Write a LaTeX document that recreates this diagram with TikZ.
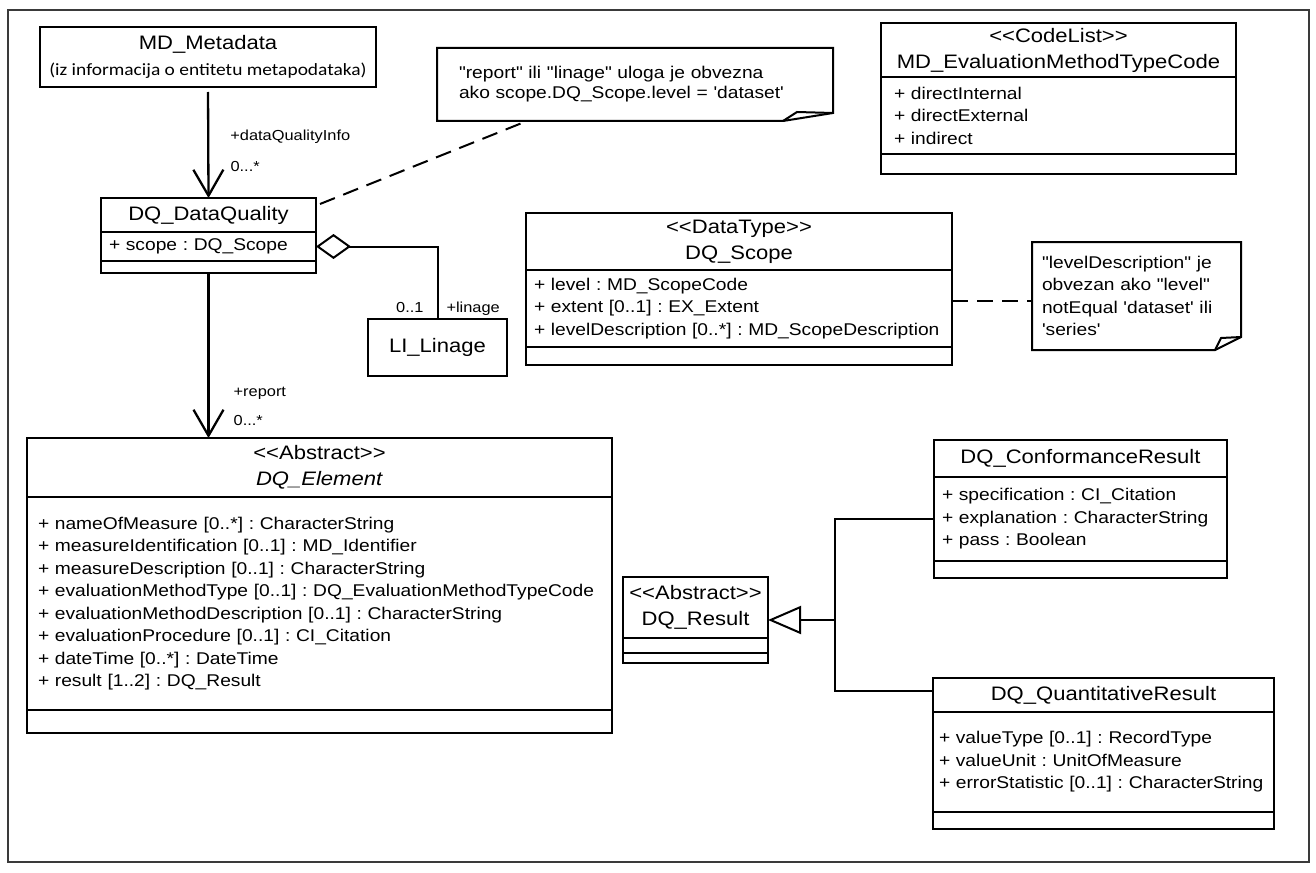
\documentclass[tikz,border=0pt]{standalone}
\usepackage{fontspec}
\newfontfamily\umlfont[FakeStretch=1.13,Ligatures=TeXOff]{Liberation Sans}
\newfontfamily\metasubfont[FakeStretch=1.13,Ligatures=TeXOff]{Carlito}
\usetikzlibrary{positioning}
\usetikzlibrary{arrows.meta, calc}
\frenchspacing
\hyphenpenalty=10000
\definecolor{framegray}{HTML}{3A3A3A}
\newcommand\namefont{\umlfont\fontsize{19.5}{26}\selectfont}
\newcommand\attrfont{\umlfont\fontsize{17}{22.5}\selectfont}
\newcommand\lblfont{\umlfont\fontsize{14.5}{17}\selectfont}
\tikzstyle{classname} = [rectangle, draw=black, line width=2pt, font=\namefont,
align=center, inner sep=0pt, outer sep=0pt]
\tikzstyle{classattr} = [rectangle, draw=black, line width=2pt, font=\attrfont,
align=left, inner xsep=8pt, inner ysep=0pt, outer sep=0pt]
\tikzstyle{classops} = [rectangle, draw=black, line width=2pt, inner sep=0pt, outer sep=0pt]
\tikzstyle{notebox} = [rectangle, font=\attrfont, align=left, inner ysep=0pt, outer sep=0pt]
\tikzstyle{noteline} = [line width=2pt, line join=miter]
\tikzstyle{notelink} = [line width=2pt, dash pattern=on 16pt off 9pt]
\tikzstyle{assoc} = [line width=2.3pt, -{Straight Barb[length=26pt, width=30pt]}]
\tikzstyle{aggr} = [line width=2pt, {Diamond[open, length=35pt, width=25pt]}-]
\tikzstyle{gen} = [line width=2pt, -{Triangle[open, length=33pt, width=28pt]}]
\tikzstyle{lbl} = [font=\lblfont, inner sep=0pt]

\begin{document}
\begin{tikzpicture}[x=1pt, y=-1pt]
    \useasboundingbox (0,0) rectangle (1316,872);
    \draw[line width=2pt, draw=framegray] (8,10) rectangle (1309,862);

    \node (mdMeta) [classname, anchor=north west, minimum width=336, minimum height=60] at (40,27)
    {MD\_Metadata\\{\metasubfont\fontsize{17.2}{22}\selectfont (iz informacija o entitetu metapodataka)}};

    \node (dqName) [classname, anchor=north west, minimum width=215, minimum height=34] at (101,198) {DQ\_DataQuality};
    \node (dqAttr) [classattr, below=0pt of dqName, text width=199pt, minimum height=29] {+ scope : DQ\_Scope};
    \node (dqOps) [classops, below=0pt of dqAttr, minimum width=215, minimum height=12] {};

    \node (noteTop) [notebox, anchor=north west, minimum width=396, minimum height=73, inner xsep=22pt,
    text width=352pt] at (437,48) {"report" ili "linage" uloga je obvezna\\[-2.5pt]ako scope.DQ\_Scope.level = 'dataset'};
    \draw[noteline] (noteTop.north west) -- (noteTop.north east) -- ([yshift=8]noteTop.south east)
    -- ([xshift=-50]noteTop.south east) -- (noteTop.south west) -- cycle;
    \draw[noteline] ([xshift=-50]noteTop.south east) -- ([xshift=-36, yshift=9]noteTop.south east)
    -- ([yshift=8]noteTop.south east);

    \node (codeName) [classname, anchor=north west, minimum width=355, minimum height=54] at (881,23)
    {<<CodeList>>\\MD\_EvaluationMethodTypeCode};
    \node (codeAttr) [classattr, below=0pt of codeName, inner xsep=13pt, text width=329pt, minimum height=77]
    {+ directInternal\\+ directExternal\\+ indirect};
    \node (codeOps) [classops, below=0pt of codeAttr, minimum width=355, minimum height=20] {};

    \node (scopeName) [classname, anchor=north west, minimum width=426, minimum height=57] at (526,213)
    {<<DataType>>\\DQ\_Scope};
    \node (scopeAttr) [classattr, below=0pt of scopeName, inner xsep=8pt, text width=410pt, minimum height=77]
    {+ level : MD\_ScopeCode\\+ extent [0..1] : EX\_Extent\\+ levelDescription [0..*] : MD\_ScopeDescription};
    \node (scopeOps) [classops, below=0pt of scopeAttr, minimum width=426, minimum height=18] {};

    \node (noteRight) [notebox, anchor=north west, minimum width=209, minimum height=108, inner xsep=10pt,
    text width=189pt] at (1032,242) {"levelDescription" je\\obvezan ako "level"\\notEqual 'dataset' ili\\'series'};
    \draw[noteline] (noteRight.north west) -- (noteRight.north east) -- ([yshift=13]noteRight.south east)
    -- ([xshift=-26]noteRight.south east) -- (noteRight.south west) -- cycle;
    \draw[noteline] ([xshift=-26]noteRight.south east) -- ([xshift=-20, yshift=12]noteRight.south east)
    -- ([yshift=13]noteRight.south east);

    \node (linage) [classname, anchor=north west, minimum width=139, minimum height=57] at (368,319) {LI\_Linage};

    \node (elemName) [classname, anchor=north west, minimum width=585, minimum height=59] at (27,438)
    {<<Abstract>>\\\textit{DQ\_Element}};
    \node (elemAttr) [classattr, below=0pt of elemName, inner xsep=11pt, text width=563pt, minimum height=213]
    {+ nameOfMeasure [0..*] : CharacterString\\
    + measureIdentification [0..1] : MD\_Identifier\\
    + measureDescription [0..1] : CharacterString\\
    + evaluationMethodType [0..1] : DQ\_EvaluationMethodTypeCode\\
    + evaluationMethodDescription [0..1] : CharacterString\\
    + evaluationProcedure [0..1] : CI\_Citation\\
    + dateTime [0..*] : DateTime\\
    + result [1..2] : DQ\_Result};
    \node (elemOps) [classops, below=0pt of elemAttr, minimum width=585, minimum height=23] {};

    \node (resName) [classname, anchor=north west, minimum width=145, minimum height=61] at (623,577)
    {<<Abstract>>\\DQ\_Result};
    \node (resAttr) [classops, below=0pt of resName, minimum width=145, minimum height=15] {};
    \node (resOps) [classops, below=0pt of resAttr, minimum width=145, minimum height=10] {};

    \node (confName) [classname, anchor=north west, minimum width=293, minimum height=37] at (934,440)
    {DQ\_ConformanceResult};
    \node (confAttr) [classattr, below=0pt of confName, text width=277pt, minimum height=84]
    {+ specification : CI\_Citation\\+ explanation : CharacterString\\+ pass : Boolean};
    \node (confOps) [classops, below=0pt of confAttr, minimum width=293, minimum height=17] {};

    \node (quantName) [classname, anchor=north west, minimum width=341, minimum height=34] at (933,678)
    {DQ\_QuantitativeResult};
    \node (quantAttr) [classattr, below=0pt of quantName, inner xsep=6pt, text width=329pt, minimum height=100]
    {+ valueType [0..1] : RecordType\\+ valueUnit : UnitOfMeasure\\+ errorStatistic [0..1] : CharacterString\\[4pt]};
    \node (quantOps) [classops, below=0pt of quantAttr, minimum width=341, minimum height=17] {};

    \draw[assoc, shorten <=5pt] (mdMeta.south) -- node[lbl, pos=0.486, anchor=base west, xshift=21] {+dataQualityInfo}
    node[lbl, pos=0.763, anchor=base west, xshift=21] {0...*} (dqName.north);
    \draw[assoc] (dqOps.south) -- node[lbl, pos=0.75, anchor=base west, xshift=24] {+report}
    node[lbl, pos=0.927, anchor=base west, xshift=24] {0...*} (dqOps.south |- elemName.north);
    \draw[aggr] (dqAttr.east) -| (linage.north) node[lbl, pos=1, anchor=base east, xshift=-13, yshift=7] {0..1}
    node[lbl, pos=1, anchor=base west, xshift=8, yshift=7] {+linage};

    \draw[notelink] ([xshift=4, yshift=-6]dqName.north east) -- ([xshift=90]noteTop.south west);
    \draw[notelink] ([yshift=8]scopeAttr.east) -- ([yshift=8]scopeAttr.east -| noteRight.west);

    \coordinate (resTip) at ($(resName.north east)!0.5!(resOps.south east)$);
    \coordinate (genTrunk) at ([xshift=67]resTip);
    \draw[line width=2pt] (confAttr.west) -| (genTrunk);
    \draw[line width=2pt] ([yshift=4]quantName.west) -| (genTrunk);
    \draw[gen] (genTrunk) -- (resTip);
\end{tikzpicture}
\end{document}
